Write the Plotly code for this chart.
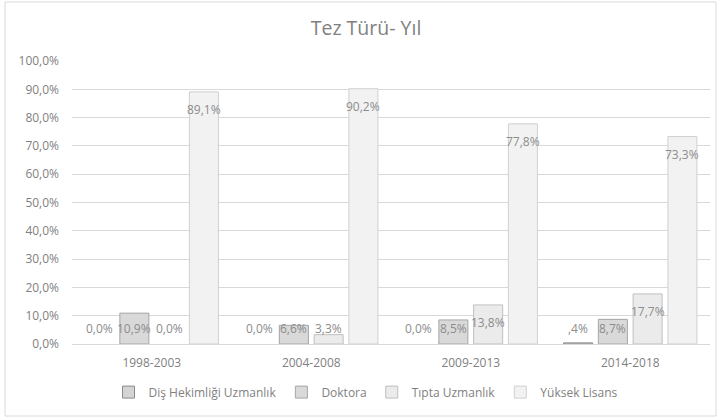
import plotly.graph_objects as go

# Thesis type share by period
periods = ["1998-2003", "2004-2008", "2009-2013", "2014-2018"]
series_names = ["Diş Hekimliği Uzmanlık", "Doktora", "Tıpta Uzmanlık", "Yüksek Lisans"]
dis_hekimligi = [0.000, 0.000, 0.000, 0.004]
doktora = [0.109, 0.066, 0.085, 0.087]
tipta_uzmanlik = [0.000, 0.033, 0.138, 0.177]
yuksek_lisans = [0.891, 0.902, 0.778, 0.733]
y_ticks = [i / 10 for i in range(11)]

series_values = [dis_hekimligi, doktora, tipta_uzmanlik, yuksek_lisans]
fills = ["#d4d4d4", "#d9d9d9", "#ebebeb", "#f2f2f2"]
edges = ["#8c8c8c", "#a6a6a6", "#bfbfbf", "#d0d0d0"]

BARGAP = 0.128
GROUPGAP = 0.165
FONT = "'Open Sans', sans-serif"
LABEL_GREY = "#8c8c8c"
AXIS_GREY = "#7f7f7f"


def pct_label(v):
    s = f"{v * 100:.1f}".replace(".", ",") + "%"
    if 0 < v * 100 < 1:
        s = s[1:]  # Excel-style ",4%"
    return s


fig = go.Figure()
for name, vals, fc, ec in zip(series_names, series_values, fills, edges):
    # non-zero points first so the legend swatch keeps its outline;
    # the category axis order is fixed separately below
    order = sorted(range(len(vals)), key=lambda k: vals[k] == 0)
    xs = [periods[k] for k in order]
    ys = [vals[k] for k in order]
    fig.add_trace(go.Bar(
        name=name, x=xs, y=ys,
        marker=dict(color=fc,
                    line=dict(color=ec, width=[1 if v > 0 else 0 for v in ys])),
        hoverinfo="x+y+name",
    ))

# Data labels at the inside end of each bar, kept above the baseline
n = len(series_names)
slot = (1 - BARGAP) / n
plot_h = 283
labels = []
for j, vals in enumerate(series_values):
    off = -(1 - BARGAP) / 2 + (j + 0.5) * slot
    for i, v in enumerate(vals):
        inside = v * plot_h - 18 > 15.5
        labels.append(dict(
            x=i + off, y=v if inside else 0, xref="x", yref="y",
            text=pct_label(v), showarrow=False,
            yshift=-18 if inside else 15.5, yanchor="middle",
            font=dict(family=FONT, size=12, color=LABEL_GREY),
        ))

fig.update_layout(
    width=717, height=419,
    margin=dict(l=72, r=7, t=61, b=75),
    paper_bgcolor="white", plot_bgcolor="white",
    separators=",.",
    barmode="group", bargap=BARGAP, bargroupgap=GROUPGAP,
    font=dict(family=FONT, size=12, color=AXIS_GREY),
    title=dict(text="Tez Türü- Yıl", x=366 / 717, xanchor="center",
               y=1 - 28 / 419, yanchor="middle",
               font=dict(family=FONT, size=19.5, color=AXIS_GREY)),
    showlegend=True,
    legend=dict(orientation="h", x=(366 - 72) / 638, xanchor="center",
                y=-0.17, yanchor="middle",
                font=dict(family=FONT, size=12, color=AXIS_GREY),
                itemwidth=30, traceorder="normal"),
    annotations=labels,
    shapes=[dict(type="rect", xref="paper", yref="paper",
                 x0=(5 - 72) / 638, x1=(716 - 72) / 638,
                 y0=(344 - 416) / 283, y1=(344 - 2) / 283,
                 line=dict(color="#d9d9d9", width=1), layer="below")],
)
fig.update_xaxes(categoryorder="array", categoryarray=periods,
                 showgrid=False, showline=True, linecolor="#d9d9d9",
                 ticks="", ticklabelstandoff=8,
                 tickfont=dict(family=FONT, size=12, color=AXIS_GREY))
fig.update_yaxes(range=[0, 1], tickvals=y_ticks, tickformat=".1%",
                 showgrid=True, gridcolor="#d9d9d9", zeroline=False,
                 showline=False, ticks="", ticklabelstandoff=12,
                 tickfont=dict(family=FONT, size=12, color=AXIS_GREY))

fig.write_html("out.html")
